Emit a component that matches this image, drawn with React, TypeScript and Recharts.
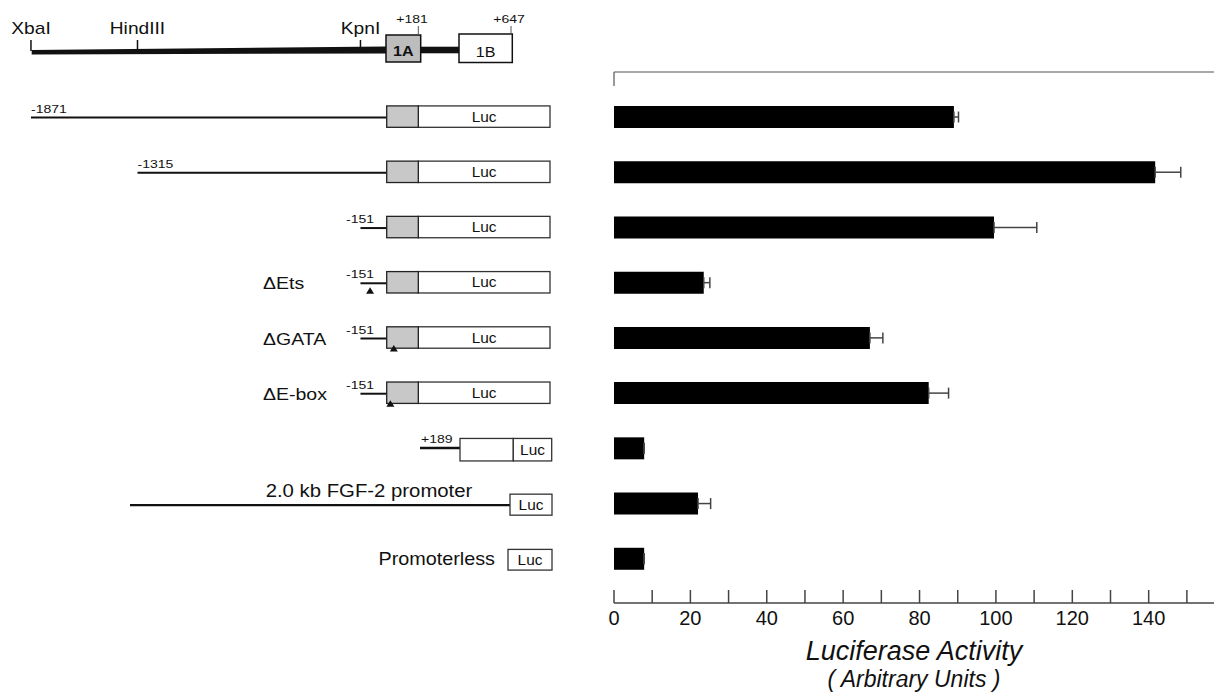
import React from 'react';
import { BarChart, Bar, XAxis, YAxis, ErrorBar, Customized } from 'recharts';

// constructs, top to bottom
const constructs = ['-1871', '-1315', '-151', 'ΔEts', 'ΔGATA', 'ΔE-box', '+189', '2.0 kb FGF-2 promoter', 'Promoterless'];
const promoterStart: (number | null)[] = [-1871, -1315, -151, -151, -151, -151, null, null, null];
const deletedSite: (number | null)[] = [null, null, null, -101, 23, 5, null, null, null];

// luciferase activity (arbitrary units) and one-sided error
const activity = [89.0, 141.7, 99.5, 23.5, 67.0, 82.4, 7.9, 22.0, 7.9];
const activityError = [1.2, 6.7, 11.2, 1.6, 3.4, 5.2, 0, 3.3, 0];

const xTicks = [0, 10, 20, 30, 40, 50, 60, 70, 80, 90, 100, 110, 120, 130, 140, 150];
const labeledTicks = [0, 20, 40, 60, 80, 100, 120, 140];
const xMax = 157.1;

// restriction map
const mapSites = ['XbaI', 'HindIII', 'KpnI'];
const mapSiteBp = [-1871, -1315, -151];
const exonEnds = ['+181', '+647'];

const data = constructs.map((name, i) => ({
  name,
  activity: activity[i],
  err: [0, activityError[i]],
}));

const FONT = '"Liberation Sans", Arial, Helvetica, sans-serif';
const INK = '#111';

const bpToX = (bp: number) => 389.4 + bp * 0.19157;

function SText({ x, y, size, anchor = 'start', stretch = 1.2, weight = 'normal', children }: any) {
  return (
    <text
      transform={`translate(${x},${y}) scale(${stretch},1)`}
      fontSize={size}
      fontFamily={FONT}
      fontWeight={weight}
      textAnchor={anchor}
      fill={INK}
    >
      {children}
    </text>
  );
}

function LucBox({ x1, x2, y1, y2, label = 'Luc' }: any) {
  return (
    <g>
      <rect x={x1} y={y1} width={x2 - x1} height={y2 - y1} fill="#fff" stroke="#333" strokeWidth={1.3} />
      <SText x={(x1 + x2) / 2} y={(y1 + y2) / 2 + 5} size={14} anchor="middle" stretch={1.1}>
        {label}
      </SText>
    </g>
  );
}

function ConstructTick(props: any) {
  const { y, payload } = props;
  const name: string = payload.value;
  const i = constructs.indexOf(name);
  const start = promoterStart[i];
  const site = deletedSite[i];

  if (start !== null) {
    const x0 = bpToX(start);
    const sx = site !== null ? bpToX(site) : 0;
    const inBox = sx > 386;
    const ty = y + (inBox ? 7.5 : 5);
    return (
      <g>
        <line x1={x0} y1={y + 1} x2={386.7} y2={y + 1} stroke={INK} strokeWidth={2} />
        <SText x={Math.min(x0, 346)} y={y - 4} size={11.5} stretch={1.22}>
          {String(start)}
        </SText>
        {name.startsWith('Δ') && (
          <SText x={263} y={y + 7} size={16} stretch={1.22}>
            {name}
          </SText>
        )}
        <LucBox x1={418.3} x2={550} y1={y - 10.7} y2={y + 10.7} />
        <rect x={386.7} y={y - 10.7} width={31.6} height={21.4} fill="#c8c8c8" stroke="#222" strokeWidth={1.3} />
        {site !== null && (
          <polygon points={`${sx},${ty} ${sx - 4},${ty + 6.5} ${sx + 4},${ty + 6.5}`} fill={INK} />
        )}
      </g>
    );
  }
  if (name === '+189') {
    return (
      <g>
        <line x1={420} y1={y} x2={460} y2={y} stroke={INK} strokeWidth={2.5} />
        <SText x={421} y={y - 5} size={11.5} stretch={1.22}>
          {name}
        </SText>
        <rect x={460} y={y - 9.5} width={53.3} height={22.5} fill="#fff" stroke="#333" strokeWidth={1.3} />
        <LucBox x1={513.3} x2={551.7} y1={y - 9.5} y2={y + 13} />
      </g>
    );
  }
  if (name.startsWith('2.0')) {
    return (
      <g>
        <line x1={130} y1={y + 2} x2={510} y2={y + 2} stroke={INK} strokeWidth={2.2} />
        <SText x={369} y={y - 6} size={18} anchor="middle" stretch={1.13}>
          {name}
        </SText>
        <LucBox x1={510} x2={552} y1={y - 9} y2={y + 12} />
      </g>
    );
  }
  return (
    <g>
      <SText x={495} y={y + 7} size={18} anchor="end" stretch={1.1}>
        {name}
      </SText>
      <LucBox x1={508} x2={552} y1={y - 9} y2={y + 11.7} />
    </g>
  );
}

function RestrictionMap() {
  return (
    <g>
      <polygon points="31.7,50 386,46.5 386,53.5 31.7,54.5" fill={INK} />
      <rect x={420} y={46.7} width={39} height={6.6} fill={INK} />
      {mapSites.map((s, i) => {
        const x = bpToX(mapSiteBp[i]);
        return (
          <g key={s}>
            <line x1={x} y1={40} x2={x} y2={51} stroke={INK} strokeWidth={1.5} />
            <SText x={x} y={34} size={16} anchor="middle">
              {s}
            </SText>
          </g>
        );
      })}
      <rect x={386} y={35} width={34.7} height={27} fill="#bdbdbd" stroke={INK} strokeWidth={1.5} />
      <SText x={403.3} y={56} size={14} anchor="middle" stretch={1.15} weight="bold">
        1A
      </SText>
      <rect x={459} y={34} width={53.3} height={28.5} fill="#fff" stroke={INK} strokeWidth={1.5} />
      <SText x={485.7} y={56.5} size={14} anchor="middle" stretch={1.15}>
        1B
      </SText>
      <line x1={418.3} y1={26} x2={418.3} y2={35} stroke="#555" strokeWidth={1} />
      <SText x={412} y={22.5} size={11.5} anchor="middle" stretch={1.22}>
        {exonEnds[0]}
      </SText>
      <line x1={511} y1={26} x2={511} y2={34} stroke="#555" strokeWidth={1} />
      <SText x={509} y={22.5} size={11.5} anchor="middle" stretch={1.22}>
        {exonEnds[1]}
      </SText>
    </g>
  );
}

function AxisTitle(props: any) {
  const { viewBox } = props;
  const cx = viewBox.x + viewBox.width / 2;
  return (
    <g fontFamily={FONT} fontStyle="italic" fill={INK} textAnchor="middle">
      <text x={cx} y={660} fontSize={27}>
        Luciferase Activity
      </text>
      <text x={cx} y={687} fontSize={23}>
        ( Arbitrary Units )
      </text>
    </g>
  );
}

function TopTick(props: any) {
  const { x, payload } = props;
  if (payload.value !== 0) return <g />;
  return <line x1={x} y1={72} x2={x} y2={86} stroke="#555" strokeWidth={1.2} />;
}

export default function App() {
  return (
    <div style={{ position: 'absolute', left: 0, top: 0, width: 1214, height: 693, background: '#fff' }}>
      <BarChart
        width={1214}
        height={693}
        data={data}
        layout="vertical"
        margin={{ top: 0, right: 0, bottom: 0, left: 0 }}
      >
        <XAxis
          xAxisId="bottom"
          type="number"
          domain={[0, xMax]}
          allowDataOverflow
          ticks={xTicks}
          interval={0}
          tickFormatter={(v: number) => (labeledTicks.includes(v) ? String(v) : '')}
          tickSize={-13}
          tickMargin={21}
          height={90}
          stroke="#444"
          strokeWidth={1.5}
          tick={{ fontSize: 20, fill: INK, fontFamily: FONT }}
          label={<AxisTitle />}
        />
        <XAxis
          xAxisId="top"
          orientation="top"
          type="number"
          domain={[0, xMax]}
          allowDataOverflow
          ticks={[0]}
          interval={0}
          tickLine={false}
          tick={(p: any) => <TopTick {...p} />}
          height={72}
          stroke="#555"
          strokeWidth={1.2}
        />
        <YAxis
          type="category"
          dataKey="name"
          width={614}
          axisLine={false}
          tickLine={false}
          interval={0}
          padding={{ top: 17, bottom: 17 }}
          tick={(p: any) => <ConstructTick {...p} />}
        />
        <Bar xAxisId="bottom" dataKey="activity" fill="#000" barSize={22} isAnimationActive={false}>
          <ErrorBar dataKey="err" direction="x" width={5.5} stroke="#444" strokeWidth={1.5} />
        </Bar>
        <Customized component={RestrictionMap} />
      </BarChart>
    </div>
  );
}
